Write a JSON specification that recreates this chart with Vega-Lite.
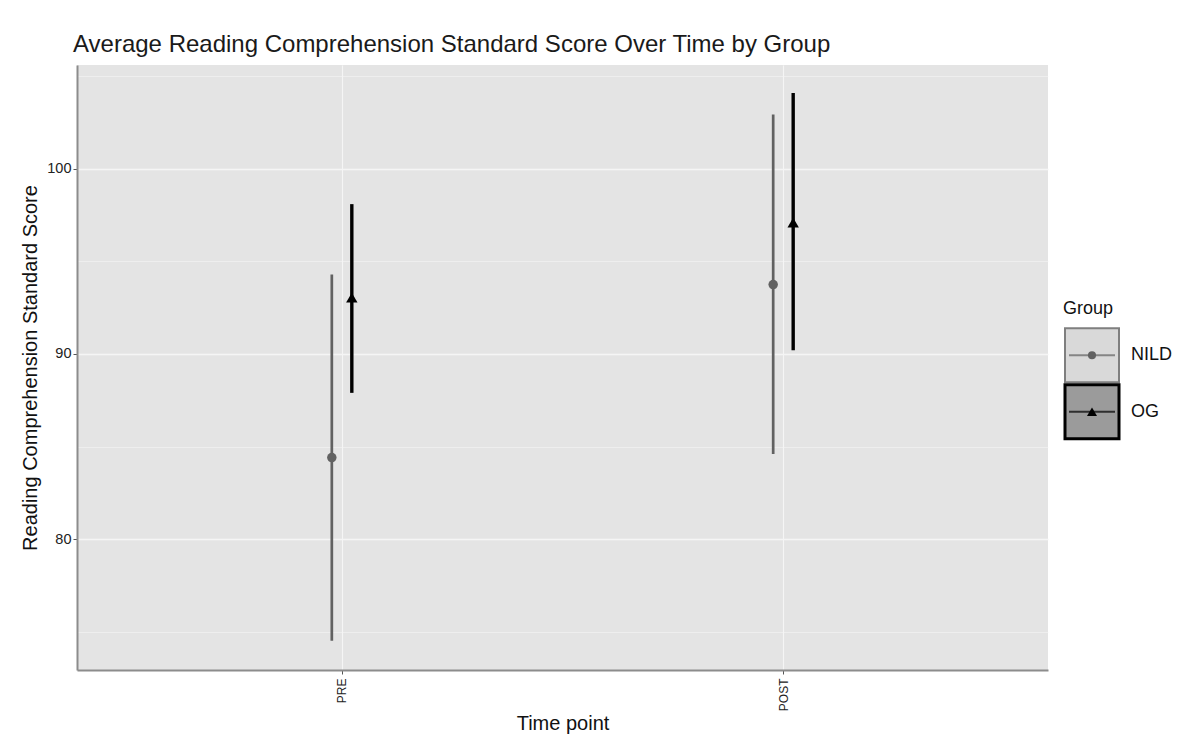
{
  "$schema": "https://vega.github.io/schema/vega-lite/v6.json",
  "padding": {"left": 20, "top": 33, "right": 5, "bottom": 5},
  "background": "white",
  "title": {"text": "Average Reading Comprehension Standard Score Over Time by Group", "anchor": "start", "frame": "group", "fontSize": 24, "fontWeight": "normal", "color": "#1A1A1A", "font": "Liberation Sans", "offset": 8, "dx": -4},
  "config": {"font": "Liberation Sans", "view": {"stroke": null}},
  "spacing": 11,
  "hconcat": [
    {
      "width": 971,
      "height": 605,
      "view": {"fill": "#E4E4E4", "stroke": null},
      "data": {"values": [
        {"Time": "PRE", "Group": "NILD", "mean": 84.4, "lower": 74.5, "upper": 94.3},
        {"Time": "PRE", "Group": "OG", "mean": 93.05, "lower": 87.9, "upper": 98.1},
        {"Time": "POST", "Group": "NILD", "mean": 93.75, "lower": 84.6, "upper": 102.95},
        {"Time": "POST", "Group": "OG", "mean": 97.1, "lower": 90.2, "upper": 104.1}
      ]},
      "encoding": {
        "x": {"field": "Time", "type": "nominal", "sort": ["PRE", "POST"], "scale": {"type": "point", "padding": 0.6}, "title": "Time point",
          "axis": {"labelAngle": 270, "labelFontSize": 12, "labelColor": "#222", "labelPadding": 4, "tickSize": 4, "tickColor": "#555", "tickWidth": 1, "domainColor": "#8C8C8C", "domainWidth": 2, "grid": true, "gridColor": "#F5F5F5", "gridWidth": 1.2, "titleFontSize": 20, "titleFontWeight": "normal", "titleColor": "#111", "titlePadding": 3}},
        "xOffset": {"field": "Group", "type": "nominal", "scale": {"type": "point", "domain": ["NILD", "OG"], "range": [-10, 10], "padding": 0}},
        "color": {"field": "Group", "type": "nominal", "scale": {"domain": ["NILD", "OG"], "range": ["#616161", "#000000"]}, "legend": null}
      },
      "layer": [
        {
          "mark": {"type": "rule"},
          "encoding": {
            "y": {"field": "lower", "type": "quantitative", "scale": {"domain": [72.92, 105.62], "nice": false, "zero": false}, "title": "Reading Comprehension Standard Score",
              "axis": {"values": [75, 80, 85, 90, 95, 100, 105], "labelExpr": "datum.value % 10 === 0 ? datum.label : ''",
                "tickOpacity": {"condition": {"test": "datum.value % 10 === 0", "value": 1}, "value": 0},
                "gridWidth": {"condition": {"test": "datum.value % 10 === 0", "value": 1.3}, "value": 0.6},
                "gridColor": "#F5F5F5", "domainColor": "#8C8C8C", "domainWidth": 2, "tickColor": "#555", "tickSize": 4,
                "labelFontSize": 14.5, "labelColor": "#222", "labelPadding": 2, "titleFontSize": 20, "titleFontWeight": "normal", "titleColor": "#111", "titlePadding": 6}},
            "y2": {"field": "upper"},
            "strokeWidth": {"field": "Group", "type": "nominal", "scale": {"domain": ["NILD", "OG"], "range": [2.7, 3.4]}, "legend": null}
          }
        },
        {
          "mark": {"type": "point", "filled": true, "opacity": 1},
          "encoding": {
            "y": {"field": "mean", "type": "quantitative"},
            "shape": {"field": "Group", "type": "nominal", "scale": {"domain": ["NILD", "OG"], "range": ["circle", "triangle-up"]}, "legend": null},
            "size": {"field": "Group", "type": "nominal", "scale": {"domain": ["NILD", "OG"], "range": [90, 130]}, "legend": null}
          }
        }
      ]
    },
    {
      "width": 110,
      "height": 605,
      "view": {"stroke": null},
      "data": {"values": [{"Group": "NILD"}, {"Group": "OG"}]},
      "encoding": {
        "y": {"field": "Group", "type": "nominal", "scale": {"type": "band", "domain": ["NILD", "OG"], "range": [262, 375], "paddingInner": 0, "paddingOuter": 0}, "axis": null}
      },
      "layer": [
        {
          "mark": {"type": "point", "shape": "square", "size": 2916, "filled": true, "opacity": 1},
          "encoding": {
            "x": {"datum": "key", "type": "nominal", "scale": {"type": "point", "domain": ["key", "label"], "range": [29, 68], "padding": 0}, "axis": null},
            "fill": {"field": "Group", "type": "nominal", "scale": {"domain": ["NILD", "OG"], "range": ["#D9D9D9", "#9B9B9B"]}, "legend": null},
            "stroke": {"field": "Group", "type": "nominal", "scale": {"domain": ["NILD", "OG"], "range": ["#7F7F7F", "#000000"]}, "legend": null},
            "strokeWidth": {"field": "Group", "type": "nominal", "scale": {"domain": ["NILD", "OG"], "range": [2, 3]}, "legend": null}
          }
        },
        {
          "mark": {"type": "tick", "orient": "horizontal", "size": 46, "thickness": 2.2},
          "encoding": {
            "x": {"datum": "key", "type": "nominal"},
            "color": {"field": "Group", "type": "nominal", "scale": {"domain": ["NILD", "OG"], "range": ["#616161", "#000000"]}, "legend": null}
          }
        },
        {
          "mark": {"type": "point", "filled": true, "opacity": 1},
          "encoding": {
            "x": {"datum": "key", "type": "nominal"},
            "color": {"field": "Group", "type": "nominal", "scale": {"domain": ["NILD", "OG"], "range": ["#616161", "#000000"]}, "legend": null},
            "shape": {"field": "Group", "type": "nominal", "scale": {"domain": ["NILD", "OG"], "range": ["circle", "triangle-up"]}, "legend": null},
            "size": {"field": "Group", "type": "nominal", "scale": {"domain": ["NILD", "OG"], "range": [65, 100]}, "legend": null}
          }
        },
        {
          "mark": {"type": "text", "align": "left", "baseline": "middle", "fontSize": 18, "color": "#111"},
          "encoding": {
            "x": {"datum": "label", "type": "nominal"},
            "text": {"field": "Group"}
          }
        },
        {
          "data": {"values": [{"title": "Group"}]},
          "mark": {"type": "text", "align": "left", "baseline": "alphabetic", "fontSize": 18, "dx": -29, "dy": -41, "color": "#111"},
          "encoding": {
            "x": {"datum": "key", "type": "nominal"},
            "y": {"datum": "NILD", "type": "nominal"},
            "text": {"field": "title"}
          }
        }
      ],
      "resolve": {"scale": {"fill": "independent", "stroke": "independent", "strokeWidth": "independent", "size": "independent", "color": "independent"}}
    }
  ]
}
